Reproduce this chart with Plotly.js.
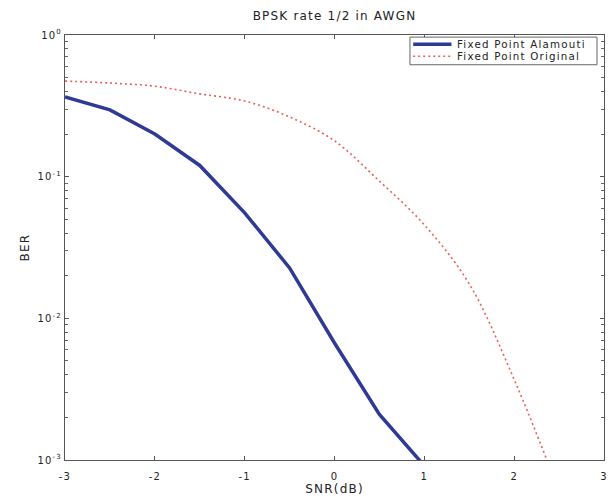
<!DOCTYPE html>
<html>
<head>
<meta charset="utf-8">
<script src="https://cdn.plot.ly/plotly-3.0.1.min.js"></script>
<style>
html,body{margin:0;padding:0;background:#fff;}
#chart{width:608px;height:501px;}
#chart svg text{letter-spacing:1.2px;}
</style>
</head>
<body>
<div id="chart"></div>
<script>
const snrAlamouti = [-3, -2.5, -2, -1.5, -1, -0.5, 0, 0.5, 1];
const berAlamouti = [0.365, 0.296, 0.2, 0.12, 0.0555, 0.0227, 0.0067, 0.0021, 0.00091];
const snrOriginal = [-3, -2.5, -2, -1.5, -1, -0.5, 0, 0.5, 1, 1.5, 2, 2.5];
const berOriginal = [0.473, 0.458, 0.435, 0.384, 0.342, 0.264, 0.179, 0.093, 0.0457, 0.0175, 0.0037, 0.0006];
const seriesNames = ['Fixed Point Alamouti', 'Fixed Point Original'];
const xTickVals = [-3, -2, -1, 0, 1, 2, 3];
const xTickText = ['-3', '-2', '-1', '0', '1', '2', '3'];
const yTickVals = [1, 0.1, 0.01, 0.001];
const yTickText = ['10<sup>0</sup>', '10<sup>-1</sup>', '10<sup>-2</sup>', '10<sup>-3</sup>'];
const yMinorTickVals = [0.002, 0.003, 0.004, 0.005, 0.006, 0.007, 0.008, 0.009,
                        0.02, 0.03, 0.04, 0.05, 0.06, 0.07, 0.08, 0.09,
                        0.2, 0.3, 0.4, 0.5, 0.6, 0.7, 0.8, 0.9];

const fam = 'DejaVu Sans, Liberation Sans, Arial, sans-serif';
const txt = '#222';
const blue = '#2e3a94';
const red = '#e8605a';

const traces = [
  {x: snrAlamouti, y: berAlamouti, mode: 'lines', name: seriesNames[0],
   line: {color: blue, width: 3.5}},
  {x: snrOriginal, y: berOriginal, mode: 'lines', name: seriesNames[1],
   line: {color: red, width: 1.6, dash: '2px,3px', shape: 'spline'}}
];

// compact MATLAB-style legend (paper coordinates)
const lg = {x0: 0.640, x1: 0.987, y0: 0.930, y1: 0.995, lineX0: 0.646, lineX1: 0.717, textX: 0.746, rowY: [0.978, 0.950]};

const layout = {
  width: 608, height: 501,
  margin: {l: 65, r: 4, t: 35, b: 41},
  paper_bgcolor: '#fff', plot_bgcolor: '#fff',
  font: {family: fam, size: 10, color: txt},
  title: {text: 'BPSK rate 1/2 in AWGN', font: {family: fam, size: 12, color: txt},
          xref: 'paper', x: 0.5, xanchor: 'center', y: 0.977, yanchor: 'top'},
  showlegend: false,
  xaxis: {
    range: [-3, 3], tickvals: xTickVals, ticktext: xTickText,
    showgrid: false, zeroline: false, showline: true, linecolor: '#555', linewidth: 1, mirror: 'ticks',
    ticks: 'inside', ticklen: 4, tickcolor: '#555', ticklabelstandoff: 7,
    tickfont: {family: fam, size: 10, color: txt},
    title: {text: 'SNR(dB)', font: {family: fam, size: 12, color: txt}, standoff: 0}
  },
  yaxis: {
    type: 'log', range: [-3, 0], tickvals: yTickVals, ticktext: yTickText,
    showgrid: false, zeroline: false, showline: true, linecolor: '#555', linewidth: 1, mirror: 'ticks',
    ticks: 'inside', ticklen: 4, tickcolor: '#555', tickfont: {family: fam, size: 10, color: txt},
    minor: {tickmode: 'array', tickvals: yMinorTickVals, ticks: 'inside', ticklen: 3, tickcolor: '#666', showgrid: false},
    title: {text: 'BER', font: {family: fam, size: 12, color: txt}, standoff: 10}
  },
  shapes: [
    {type: 'rect', xref: 'paper', yref: 'paper', x0: lg.x0, x1: lg.x1, y0: lg.y0, y1: lg.y1,
     line: {color: '#666', width: 1}, fillcolor: '#fff', layer: 'above'},
    {type: 'line', xref: 'paper', yref: 'paper', x0: lg.lineX0, x1: lg.lineX1, y0: lg.rowY[0], y1: lg.rowY[0],
     line: {color: blue, width: 3.5}, layer: 'above'},
    {type: 'line', xref: 'paper', yref: 'paper', x0: lg.lineX0, x1: lg.lineX1, y0: lg.rowY[1], y1: lg.rowY[1],
     line: {color: red, width: 1.6, dash: '2px,3px'}, layer: 'above'}
  ],
  annotations: [
    {xref: 'paper', yref: 'paper', x: lg.textX, y: lg.rowY[0], xanchor: 'left', yanchor: 'middle',
     text: seriesNames[0], showarrow: false, font: {family: fam, size: 10.3, color: txt}},
    {xref: 'paper', yref: 'paper', x: lg.textX, y: lg.rowY[1], xanchor: 'left', yanchor: 'middle',
     text: seriesNames[1], showarrow: false, font: {family: fam, size: 10.3, color: txt}}
  ]
};

Plotly.newPlot('chart', traces, layout, {displayModeBar: false, staticPlot: true});
</script>
</body>
</html>
